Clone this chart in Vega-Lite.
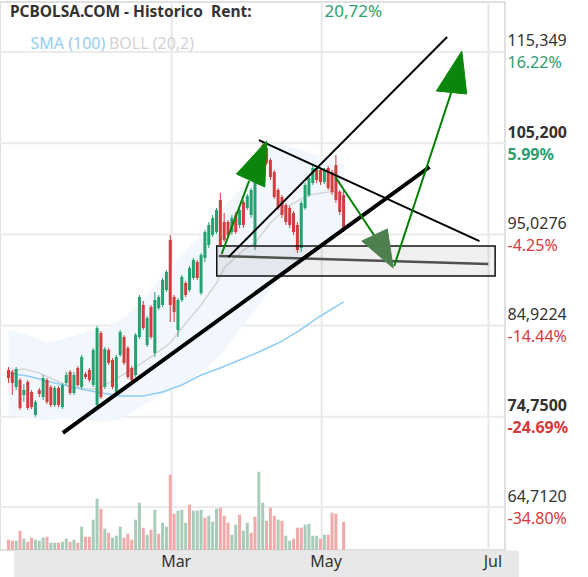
{
  "$schema": "https://vega.github.io/schema/vega-lite/v6.json",
  "width": 505,
  "height": 548,
  "autosize": {"type": "none"},
  "padding": {"left": 0, "top": 2, "right": 83, "bottom": 27},
  "background": "white",
  "config": {"view": {"stroke": "#e0e0e0", "strokeWidth": 2}, "font": "Noto Sans"},
  "datasets": {
    "c": [
      {"t":1,"o":79.96,"h":80.29,"l":78.51,"c":79.07,"v":10.3,"vd":"d"},
      {"t":2,"o":79.74,"h":79.96,"l":77.18,"c":78.51,"v":9.3,"vd":"d"},
      {"t":3,"o":78.07,"h":80.29,"l":77.73,"c":80.07,"v":9.3,"vd":"u"},
      {"t":4,"o":78.85,"h":79.07,"l":75.51,"c":75.73,"v":19.3,"vd":"d"},
      {"t":5,"o":77.18,"h":78.40,"l":76.40,"c":77.73,"v":11.3,"vd":"u"},
      {"t":6,"o":78.62,"h":78.85,"l":75.51,"c":75.73,"v":8.3,"vd":"d"},
      {"t":7,"o":77.51,"h":77.73,"l":75.62,"c":75.84,"v":12.3,"vd":"d"},
      {"t":8,"o":74.95,"h":76.62,"l":74.75,"c":76.40,"v":10.3,"vd":"u"},
      {"t":9,"o":77.73,"h":77.96,"l":76.95,"c":77.29,"v":9.3,"vd":"u"},
      {"t":10,"o":76.95,"h":79.40,"l":76.62,"c":79.07,"v":12.3,"vd":"u"},
      {"t":11,"o":78.85,"h":79.07,"l":76.18,"c":76.40,"v":13.3,"vd":"d"},
      {"t":12,"o":78.07,"h":78.29,"l":75.84,"c":76.06,"v":7.3,"vd":"u"},
      {"t":13,"o":76.06,"h":78.18,"l":75.84,"c":77.96,"v":7.3,"vd":"u"},
      {"t":14,"o":77.96,"h":78.18,"l":75.84,"c":76.06,"v":7.3,"vd":"d"},
      {"t":15,"o":75.84,"h":78.51,"l":75.62,"c":78.29,"v":8.3,"vd":"u"},
      {"t":16,"o":78.51,"h":79.74,"l":78.29,"c":79.40,"v":11.3,"vd":"u"},
      {"t":17,"o":79.74,"h":79.96,"l":77.18,"c":77.40,"v":8.3,"vd":"d"},
      {"t":18,"o":77.40,"h":79.74,"l":77.18,"c":79.40,"v":10.3,"vd":"u"},
      {"t":19,"o":80.18,"h":80.40,"l":78.07,"c":78.29,"v":7.3,"vd":"d"},
      {"t":20,"o":78.07,"h":81.63,"l":77.84,"c":81.41,"v":23.3,"vd":"u"},
      {"t":21,"o":79.51,"h":79.74,"l":78.96,"c":79.18,"v":13.3,"vd":"d"},
      {"t":22,"o":79.96,"h":80.18,"l":78.62,"c":78.85,"v":13.3,"vd":"d"},
      {"t":23,"o":78.29,"h":82.41,"l":78.07,"c":82.18,"v":30.3,"vd":"u"},
      {"t":24,"o":76.06,"h":84.86,"l":75.73,"c":84.63,"v":51.3,"vd":"u"},
      {"t":25,"o":84.08,"h":84.30,"l":76.73,"c":76.95,"v":41.3,"vd":"d"},
      {"t":26,"o":78.07,"h":82.52,"l":77.84,"c":82.30,"v":21.3,"vd":"u"},
      {"t":27,"o":82.18,"h":82.41,"l":80.52,"c":80.74,"v":17.3,"vd":"d"},
      {"t":28,"o":81.07,"h":81.29,"l":77.84,"c":78.07,"v":12.3,"vd":"u"},
      {"t":29,"o":77.51,"h":81.63,"l":77.29,"c":81.41,"v":14.3,"vd":"u"},
      {"t":30,"o":81.63,"h":84.41,"l":81.41,"c":84.19,"v":23.3,"vd":"u"},
      {"t":31,"o":83.63,"h":83.85,"l":80.52,"c":80.74,"v":12.3,"vd":"d"},
      {"t":32,"o":82.41,"h":82.63,"l":78.96,"c":79.18,"v":16.3,"vd":"d"},
      {"t":33,"o":80.18,"h":80.40,"l":78.62,"c":78.85,"v":10.3,"vd":"d"},
      {"t":34,"o":79.40,"h":84.08,"l":79.18,"c":83.85,"v":30.3,"vd":"u"},
      {"t":35,"o":83.63,"h":88.31,"l":83.41,"c":88.08,"v":47.3,"vd":"u"},
      {"t":36,"o":87.19,"h":87.64,"l":84.41,"c":84.63,"v":22.3,"vd":"d"},
      {"t":37,"o":82.74,"h":85.97,"l":82.52,"c":85.75,"v":15.3,"vd":"u"},
      {"t":38,"o":86.97,"h":87.19,"l":83.41,"c":83.63,"v":20.3,"vd":"d"},
      {"t":39,"o":81.85,"h":88.64,"l":81.41,"c":87.75,"v":40.3,"vd":"u"},
      {"t":40,"o":86.86,"h":88.31,"l":86.64,"c":88.08,"v":16.3,"vd":"d"},
      {"t":41,"o":87.19,"h":90.20,"l":86.97,"c":89.98,"v":27.3,"vd":"u"},
      {"t":42,"o":88.86,"h":91.09,"l":88.64,"c":90.87,"v":23.3,"vd":"u"},
      {"t":43,"o":94.43,"h":94.98,"l":85.30,"c":87.19,"v":75.3,"vd":"d"},
      {"t":44,"o":88.08,"h":88.31,"l":85.30,"c":86.41,"v":36.3,"vd":"d"},
      {"t":45,"o":84.41,"h":87.97,"l":83.63,"c":87.75,"v":39.3,"vd":"u"},
      {"t":46,"o":87.75,"h":90.53,"l":87.53,"c":90.31,"v":40.3,"vd":"u"},
      {"t":47,"o":89.64,"h":89.86,"l":88.08,"c":88.31,"v":27.3,"vd":"u"},
      {"t":48,"o":88.86,"h":91.53,"l":88.64,"c":91.31,"v":45.3,"vd":"d"},
      {"t":49,"o":90.20,"h":92.42,"l":89.98,"c":92.20,"v":39.3,"vd":"u"},
      {"t":50,"o":91.98,"h":92.20,"l":89.98,"c":90.20,"v":39.3,"vd":"u"},
      {"t":51,"o":88.53,"h":92.98,"l":88.31,"c":92.76,"v":40.3,"vd":"u"},
      {"t":52,"o":92.42,"h":95.54,"l":91.98,"c":95.32,"v":32.3,"vd":"d"},
      {"t":53,"o":93.87,"h":96.43,"l":93.54,"c":96.10,"v":34.3,"vd":"u"},
      {"t":54,"o":94.98,"h":97.21,"l":94.76,"c":96.88,"v":28.3,"vd":"u"},
      {"t":55,"o":95.32,"h":97.99,"l":95.09,"c":97.77,"v":41.3,"vd":"u"},
      {"t":56,"o":98.88,"h":99.66,"l":93.65,"c":93.87,"v":42.3,"vd":"d"},
      {"t":57,"o":96.43,"h":97.43,"l":94.20,"c":94.43,"v":34.3,"vd":"d"},
      {"t":58,"o":96.43,"h":96.65,"l":94.65,"c":94.98,"v":27.3,"vd":"d"},
      {"t":59,"o":95.32,"h":97.21,"l":94.98,"c":96.88,"v":15.3,"vd":"u"},
      {"t":60,"o":97.21,"h":97.54,"l":95.09,"c":95.32,"v":25.3,"vd":"u"},
      {"t":61,"o":96.10,"h":97.99,"l":95.76,"c":97.77,"v":35.3,"vd":"d"},
      {"t":62,"o":98.66,"h":98.88,"l":95.76,"c":96.10,"v":19.3,"vd":"u"},
      {"t":63,"o":97.99,"h":99.55,"l":97.77,"c":99.32,"v":27.3,"vd":"u"},
      {"t":64,"o":97.21,"h":100.21,"l":96.88,"c":99.99,"v":17.3,"vd":"d"},
      {"t":65,"o":93.87,"h":101.66,"l":93.31,"c":101.44,"v":33.3,"vd":"d"},
      {"t":66,"o":100.77,"h":104.22,"l":100.55,"c":104.11,"v":78.3,"vd":"u"},
      {"t":67,"o":105.00,"h":105.20,"l":102.22,"c":102.44,"v":47.3,"vd":"u"},
      {"t":68,"o":104.67,"h":105.10,"l":102.77,"c":103.00,"v":29.3,"vd":"d"},
      {"t":69,"o":103.33,"h":103.55,"l":101.10,"c":101.44,"v":42.3,"vd":"d"},
      {"t":70,"o":101.99,"h":102.22,"l":98.99,"c":99.21,"v":34.3,"vd":"d"},
      {"t":71,"o":99.99,"h":100.21,"l":97.77,"c":97.99,"v":30.3,"vd":"u"},
      {"t":72,"o":99.21,"h":99.43,"l":96.88,"c":97.21,"v":29.3,"vd":"d"},
      {"t":73,"o":98.32,"h":98.54,"l":96.10,"c":96.43,"v":14.3,"vd":"u"},
      {"t":74,"o":97.99,"h":98.21,"l":95.76,"c":96.10,"v":9.3,"vd":"u"},
      {"t":75,"o":97.43,"h":97.65,"l":94.98,"c":95.32,"v":11.3,"vd":"d"},
      {"t":76,"o":96.10,"h":96.43,"l":92.98,"c":93.31,"v":22.3,"vd":"d"},
      {"t":77,"o":93.54,"h":98.77,"l":93.09,"c":98.54,"v":22.3,"vd":"d"},
      {"t":78,"o":97.99,"h":100.77,"l":97.77,"c":100.55,"v":25.3,"vd":"u"},
      {"t":79,"o":99.43,"h":101.55,"l":99.21,"c":101.33,"v":26.3,"vd":"u"},
      {"t":80,"o":100.77,"h":102.66,"l":100.55,"c":102.44,"v":14.3,"vd":"u"},
      {"t":81,"o":102.44,"h":102.66,"l":100.77,"c":101.10,"v":14.3,"vd":"u"},
      {"t":82,"o":102.22,"h":102.44,"l":100.55,"c":100.88,"v":11.3,"vd":"d"},
      {"t":83,"o":100.88,"h":102.44,"l":100.66,"c":102.22,"v":15.3,"vd":"u"},
      {"t":84,"o":102.44,"h":102.66,"l":99.99,"c":100.21,"v":15.3,"vd":"d"},
      {"t":85,"o":101.99,"h":102.22,"l":99.43,"c":99.77,"v":37.3,"vd":"d"},
      {"t":86,"o":102.77,"h":103.89,"l":98.54,"c":98.88,"v":36.3,"vd":"d"},
      {"t":87,"o":99.77,"h":99.99,"l":97.21,"c":97.54,"v":0,"vd":"d"},
      {"t":88,"o":99.43,"h":99.99,"l":95.32,"c":95.54,"v":28.3,"vd":"d"}
    ],
    "sma": [
      {"t":1,"v":79.60},{"t":6,"v":79.29},{"t":13,"v":78.51},{"t":21,"v":77.73},{"t":26,"v":77.34},
      {"t":30,"v":77.06},{"t":36,"v":77.06},{"t":41,"v":77.51},{"t":46,"v":78.29},{"t":51,"v":79.40},
      {"t":56,"v":80.18},{"t":61,"v":81.07},{"t":66,"v":81.96},{"t":71,"v":82.96},{"t":76,"v":84.19},
      {"t":82,"v":85.97},{"t":88,"v":87.53}
    ],
    "boll": [
      {"t":1,"m":79.74},{"t":3,"m":79.96},{"t":5,"m":80.07},{"t":9,"m":79.62},{"t":13,"m":78.85},
      {"t":17,"m":78.07},{"t":21,"m":77.84},{"t":24,"m":77.84},{"t":28,"m":78.74},{"t":31,"m":79.51},
      {"t":34,"m":80.29},{"t":38,"m":81.41},{"t":43,"m":82.96},{"t":47,"m":85.19},{"t":51,"m":87.19},
      {"t":55,"m":89.64},{"t":57,"m":91.31},{"t":62,"m":93.31},{"t":65,"m":94.09},{"t":69,"m":96.32},
      {"t":74,"m":98.32},{"t":79,"m":99.43},{"t":84,"m":99.77},{"t":88,"m":99.77}
    ],
    "band": [
      {"t":1,"up":84.41,"lo":74.95},{"t":6,"up":83.85,"lo":74.62},{"t":11,"up":82.96,"lo":74.39},
      {"t":16,"up":83.52,"lo":74.62},{"t":21,"up":84.19,"lo":74.39},{"t":26,"up":84.63,"lo":74.17},
      {"t":31,"up":85.75,"lo":74.62},{"t":36,"up":87.75,"lo":76.06},{"t":41,"up":90.53,"lo":77.18},
      {"t":46,"up":92.76,"lo":78.29},{"t":51,"up":94.98,"lo":79.74},{"t":56,"up":97.77,"lo":81.63},
      {"t":61,"up":99.99,"lo":84.41},{"t":66,"up":102.77,"lo":87.19},{"t":69,"up":105.00,"lo":88.86},
      {"t":73,"up":105.00,"lo":91.09},{"t":77,"up":104.44,"lo":92.76},{"t":81,"up":103.89,"lo":93.87},
      {"t":85,"up":103.33,"lo":94.65},{"t":88,"up":102.77,"lo":95.32}
    ],
    "levels": [{"p":64.712},{"p":74.75},{"p":84.9224},{"p":95.0276},{"p":105.2},{"p":115.349}],
    "months": [{"t":43.37,"m":"Mar"},{"t":82.3,"m":"May"},{"t":125.6,"m":"Jul"}]
  },
  "layer": [
    {
      "data": {"name": "months"},
      "mark": {"type": "rule", "color": "#e8e8e8", "strokeWidth": 2},
      "encoding": {
        "x": {"field": "t", "type": "quantitative", "scale": {"domain": [0.1, 128.6], "nice": false, "zero": false}, "axis": null}
      }
    },
    {
      "data": {"name": "levels"},
      "mark": {"type": "rule", "color": "#ebebeb", "strokeWidth": 2},
      "encoding": {
        "y": {"field": "p", "type": "quantitative", "scale": {"domain": [59.927, 120.913], "nice": false, "zero": false},
          "axis": {"orient": "right", "values": [64.712, 74.75, 84.9224, 95.0276, 105.2, 115.349],
            "labelExpr": "datum.value > 110 ? '16.22%' : datum.value > 100 ? '5.99%' : datum.value > 90 ? '-4.25%' : datum.value > 80 ? '-14.44%' : datum.value > 70 ? '-24.69%' : '-34.80%'",
            "grid": false, "ticks": false, "domain": false,
            "labelAlign": "left", "labelBaseline": "alphabetic", "labelOffset": 16, "labelPadding": 2,
            "labelFontSize": 16, "labelFont": "Noto Sans",
            "labelColor": {"condition": {"test": "datum.value > 99.25", "value": "#2e9e6e"}, "value": "#d9383a"},
            "labelFontWeight": {"condition": {"test": "abs(datum.value-105.2)<0.01 || abs(datum.value-74.75)<0.01", "value": "bold"}, "value": "normal"},
            "labelOverlap": false, "labelBound": false, "labelFlush": false, "title": null}}
      }
    },
    {
      "data": {"name": "band"},
      "mark": {"type": "area", "color": "#f2f7fd"},
      "encoding": {
        "x": {"field": "t", "type": "quantitative", "scale": {"domain": [0.1, 128.6], "nice": false, "zero": false},
          "axis": {"orient": "bottom", "values": [43.37, 82.3, 125.6], "labelExpr": "datum.value < 60 ? 'Mar' : datum.value < 100 ? 'May' : 'Jul'",
            "grid": false, "ticks": false, "domain": false,
            "labelPadding": 16, "labelBaseline": "alphabetic", "labelFontSize": 16, "labelColor": "#333333",
            "labelFont": "Noto Sans", "labelOffset": 4, "labelFlush": false, "labelOverlap": false, "labelBound": false, "title": null, "zindex": 1}},
        "y": {"field": "up", "type": "quantitative", "scale": {"domain": [59.927, 120.913], "nice": false, "zero": false}, "axis": null},
        "y2": {"field": "lo"}
      }
    },
    {
      "data": {"name": "c"},
      "mark": {"type": "bar", "width": 3},
      "encoding": {
        "x": {"field": "t", "type": "quantitative", "scale": {"domain": [0.1, 128.6], "nice": false, "zero": false},
          "axis": {"orient": "bottom", "values": [43.37, 82.3, 125.6], "labels": false, "grid": false, "ticks": false,
            "domain": true, "domainColor": "#e8e8e8", "domainWidth": 27, "translate": 14, "title": null, "zindex": 0}},
        "y": {"field": "v", "type": "quantitative", "scale": {"domain": [0, 548], "nice": false, "zero": false}, "axis": null},
        "color": {"condition": {"test": "datum.vd == 'u'", "value": "#a9ccba"}, "value": "#f2a9a9"}
      }
    },
    {
      "data": {"name": "boll"},
      "mark": {"type": "line", "color": "#d5d5d5", "strokeWidth": 1.5},
      "encoding": {
        "x": {"field": "t", "type": "quantitative", "scale": {"domain": [0.1, 128.6], "nice": false, "zero": false}, "axis": null},
        "y": {"field": "m", "type": "quantitative", "scale": {"domain": [59.927, 120.913], "nice": false, "zero": false},
          "axis": {"orient": "right", "values": [64.712, 74.75, 84.9224, 95.0276, 105.2, 115.349],
            "labelExpr": "replace(format(datum.value, '.6r'), '.', ',')",
            "grid": false, "ticks": false, "domain": false,
            "labelAlign": "left", "labelBaseline": "alphabetic", "labelOffset": -6, "labelPadding": 2,
            "labelFontSize": 16, "labelFont": "Noto Sans", "labelColor": "#333333",
            "labelFontWeight": {"condition": {"test": "abs(datum.value-105.2)<0.01 || abs(datum.value-74.75)<0.01", "value": "bold"}, "value": "normal"},
            "labelOverlap": false, "labelBound": false, "labelFlush": false, "title": null}}
      }
    },
    {
      "data": {"name": "sma"},
      "mark": {"type": "line", "color": "#8ecdf6", "strokeWidth": 1.5},
      "encoding": {
        "x": {"field": "t", "type": "quantitative", "scale": {"domain": [0.1, 128.6], "nice": false, "zero": false}, "axis": null},
        "y": {"field": "v", "type": "quantitative", "scale": {"domain": [59.927, 120.913], "nice": false, "zero": false}, "axis": null}
      }
    },
    {
      "data": {"name": "c"},
      "mark": {"type": "rule", "strokeWidth": 1},
      "encoding": {
        "x": {"field": "t", "type": "quantitative", "scale": {"domain": [0.1, 128.6], "nice": false, "zero": false}, "axis": null},
        "y": {"field": "l", "type": "quantitative", "scale": {"domain": [59.927, 120.913], "nice": false, "zero": false}, "axis": null},
        "y2": {"field": "h"},
        "color": {"condition": {"test": "datum.c >= datum.o", "value": "#26a06e"}, "value": "#d23c3c"}
      }
    },
    {
      "data": {"name": "c"},
      "mark": {"type": "bar", "width": 3},
      "encoding": {
        "x": {"field": "t", "type": "quantitative", "scale": {"domain": [0.1, 128.6], "nice": false, "zero": false}, "axis": null},
        "y": {"field": "o", "type": "quantitative", "scale": {"domain": [59.927, 120.913], "nice": false, "zero": false}, "axis": null},
        "y2": {"field": "c"},
        "color": {"condition": {"test": "datum.c >= datum.o", "value": "#26a06e"}, "value": "#d23c3c"}
      }
    },
    {
      "data": {"values": [{"t1": 55.07, "t2": 127.34, "p1": 90.42, "p2": 93.76}]},
      "mark": {"type": "rect", "fill": "#000000", "fillOpacity": 0.06, "stroke": "#111111", "strokeWidth": 1.5},
      "encoding": {
        "x": {"field": "t1", "type": "quantitative", "scale": {"domain": [0.1, 128.6], "nice": false, "zero": false}, "axis": null},
        "x2": {"field": "t2"},
        "y": {"field": "p1", "type": "quantitative", "scale": {"domain": [59.927, 120.913], "nice": false, "zero": false}, "axis": null},
        "y2": {"field": "p2"}
      }
    },
    {
      "data": {"values": [{"t": 55.58, "p": 92.65}, {"t": 125.56, "p": 91.75}]},
      "mark": {"type": "line", "color": "#505050", "strokeWidth": 2.5},
      "encoding": {
        "x": {"field": "t", "type": "quantitative", "scale": {"domain": [0.1, 128.6], "nice": false, "zero": false}, "axis": null},
        "y": {"field": "p", "type": "quantitative", "scale": {"domain": [59.927, 120.913], "nice": false, "zero": false}, "axis": null}
      }
    },
    {
      "data": {"values": [{"t": 15.12, "p": 72.95}, {"t": 110.29, "p": 102.55}]},
      "mark": {"type": "line", "color": "#000000", "strokeWidth": 4},
      "encoding": {
        "x": {"field": "t", "type": "quantitative", "scale": {"domain": [0.1, 128.6], "nice": false, "zero": false}, "axis": null},
        "y": {"field": "p", "type": "quantitative", "scale": {"domain": [59.927, 120.913], "nice": false, "zero": false}, "axis": null}
      }
    },
    {
      "data": {"values": [
        {"g": "up", "t": 58.12, "p": 92.53}, {"g": "up", "t": 114.87, "p": 117.02},
        {"g": "dn", "t": 66.01, "p": 105.55}, {"g": "dn", "t": 123.27, "p": 94.31}
      ]},
      "mark": {"type": "line", "color": "#000000", "strokeWidth": 2},
      "encoding": {
        "x": {"field": "t", "type": "quantitative", "scale": {"domain": [0.1, 128.6], "nice": false, "zero": false}, "axis": null},
        "y": {"field": "p", "type": "quantitative", "scale": {"domain": [59.927, 120.913], "nice": false, "zero": false}, "axis": null},
        "detail": {"field": "g"}
      }
    },
    {
      "data": {"values": [
        {"g": "a1", "t": 56.34, "p": 92.87}, {"g": "a1", "t": 63.47, "p": 100.99},
        {"g": "a2", "t": 85.86, "p": 101.44}, {"g": "a2", "t": 96.04, "p": 94.87},
        {"g": "a3", "t": 101.13, "p": 91.53}, {"g": "a3", "t": 115.89, "p": 110.79}
      ]},
      "mark": {"type": "line", "color": "#008000", "strokeWidth": 2},
      "encoding": {
        "x": {"field": "t", "type": "quantitative", "scale": {"domain": [0.1, 128.6], "nice": false, "zero": false}, "axis": null},
        "y": {"field": "p", "type": "quantitative", "scale": {"domain": [59.927, 120.913], "nice": false, "zero": false}, "axis": null},
        "detail": {"field": "g"}
      }
    },
    {
      "data": {"values": [
        {"g": "h1", "k": 0, "t": 60.16, "p": 101.77}, {"g": "h1", "k": 1, "t": 68.05, "p": 105.44}, {"g": "h1", "k": 2, "t": 67.54, "p": 100.32}, {"g": "h1", "k": 3, "t": 60.16, "p": 101.77},
        {"g": "h2", "k": 0, "t": 92.73, "p": 94.31}, {"g": "h2", "k": 1, "t": 99.35, "p": 95.65}, {"g": "h2", "k": 2, "t": 100.87, "p": 91.31}, {"g": "h2", "k": 3, "t": 92.73, "p": 94.31},
        {"g": "h3", "k": 0, "t": 112.07, "p": 111.01}, {"g": "h3", "k": 1, "t": 118.69, "p": 115.46}, {"g": "h3", "k": 2, "t": 119.96, "p": 110.67}, {"g": "h3", "k": 3, "t": 112.07, "p": 111.01}
      ]},
      "mark": {"type": "line", "filled": true, "strokeWidth": 1},
      "encoding": {
        "x": {"field": "t", "type": "quantitative", "scale": {"domain": [0.1, 128.6], "nice": false, "zero": false}, "axis": null},
        "y": {"field": "p", "type": "quantitative", "scale": {"domain": [59.927, 120.913], "nice": false, "zero": false}, "axis": null},
        "detail": {"field": "g"},
        "order": {"field": "k"},
        "fill": {"condition": {"test": "datum.g == 'h2'", "value": "#4e7f4e"}, "value": "#0a870a"},
        "stroke": {"condition": {"test": "datum.g == 'h2'", "value": "#4e7f4e"}, "value": "#0a870a"}
      }
    },
    {
      "data": {"values": [
        {"t": 1.37, "p": 119.19, "s": "PCBOLSA.COM - Historico\u00a0 Rent:"}
      ]},
      "mark": {"type": "text", "align": "left", "baseline": "alphabetic", "font": "Noto Sans", "fontSize": 15.5, "fontWeight": "bold", "color": "#333333"},
      "encoding": {
        "x": {"field": "t", "type": "quantitative", "scale": {"domain": [0.1, 128.6], "nice": false, "zero": false}, "axis": null},
        "y": {"field": "p", "type": "quantitative", "scale": {"domain": [59.927, 120.913], "nice": false, "zero": false}, "axis": null},
        "text": {"field": "s"}
      }
    },
    {
      "data": {"values": [
        {"t": 83.05, "p": 119.19, "s": "20,72%"}
      ]},
      "mark": {"type": "text", "align": "left", "baseline": "alphabetic", "font": "Noto Sans", "fontSize": 17, "color": "#2e9e6e"},
      "encoding": {
        "x": {"field": "t", "type": "quantitative", "scale": {"domain": [0.1, 128.6], "nice": false, "zero": false}, "axis": null},
        "y": {"field": "p", "type": "quantitative", "scale": {"domain": [59.927, 120.913], "nice": false, "zero": false}, "axis": null},
        "text": {"field": "s"}
      }
    },
    {
      "data": {"values": [
        {"t": 6.72, "p": 115.68, "s": "SMA (100)", "k": "sma"},
        {"t": 27.07, "p": 115.68, "s": "BOLL (20,2)", "k": "boll"}
      ]},
      "mark": {"type": "text", "align": "left", "baseline": "alphabetic", "font": "Noto Sans", "fontSize": 16},
      "encoding": {
        "x": {"field": "t", "type": "quantitative", "scale": {"domain": [0.1, 128.6], "nice": false, "zero": false}, "axis": null},
        "y": {"field": "p", "type": "quantitative", "scale": {"domain": [59.927, 120.913], "nice": false, "zero": false}, "axis": null},
        "text": {"field": "s"},
        "color": {"condition": {"test": "datum.k == 'sma'", "value": "#93cdf5"}, "value": "#d2d2d2"}
      }
    }
  ],
  "resolve": {"scale": {"y": "independent"}, "axis": {"x": "independent"}}
}
